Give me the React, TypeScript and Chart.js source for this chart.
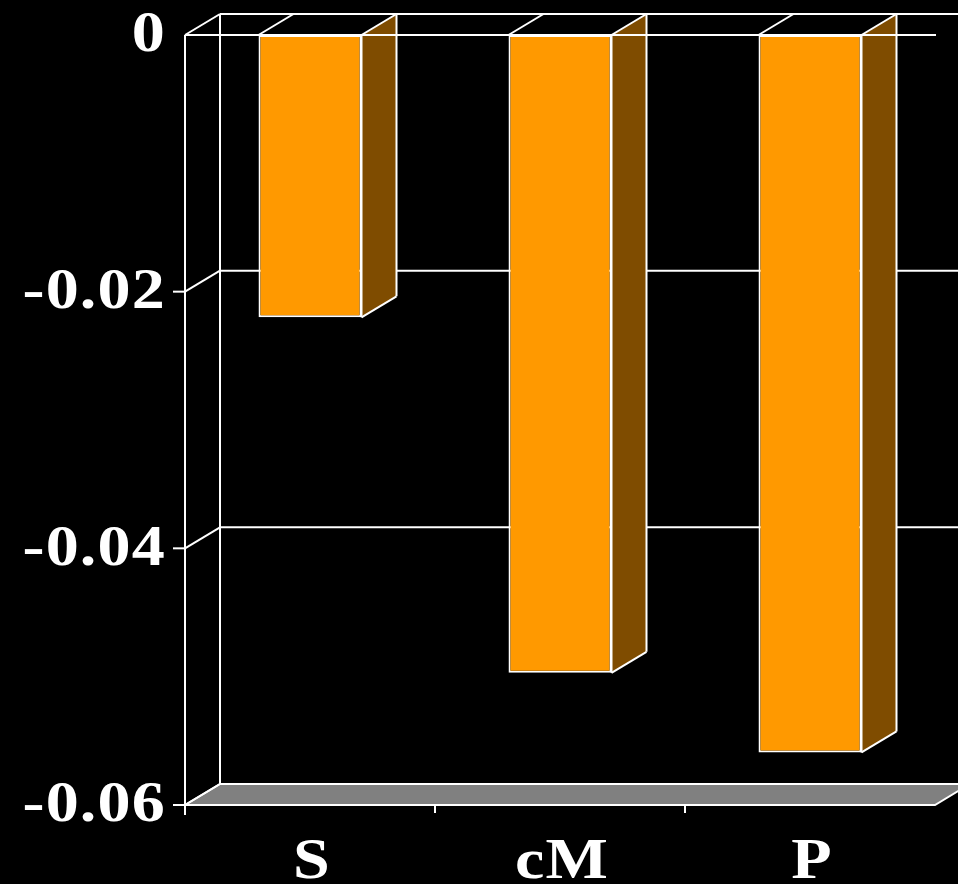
import React, { useEffect, useRef } from "react";
import { Chart, registerables } from "chart.js";

Chart.register(...registerables);

// Data
const categories = ["S", "cM", "P"];
const values = [-0.022, -0.0497, -0.0559];
const yTicks = [0, -0.02, -0.04, -0.06];
const Y_MIN = -0.06;
const Y_MAX = 0;

// 3D depth offset (pixels) for the pseudo-perspective
const DX = 35;
const DY = -21;

const FRONT = "#FF9900";
const SIDE = "#7F4C00";
const FLOOR = "#808080";
const LINE = "#FFFFFF";
const FONT = 'bold 56px "Liberation Serif", "Times New Roman", serif';
const TEXT_STRETCH = 1.18;

function line(ctx: CanvasRenderingContext2D, x1: number, y1: number, x2: number, y2: number) {
  ctx.beginPath();
  ctx.moveTo(x1, y1);
  ctx.lineTo(x2, y2);
  ctx.stroke();
}

// draws text widened horizontally, anchored at (x, y)
function wideText(ctx: CanvasRenderingContext2D, txt: string, x: number, y: number) {
  ctx.save();
  ctx.translate(x, y);
  ctx.scale(TEXT_STRETCH, 1);
  ctx.fillText(txt, 0, 0);
  ctx.restore();
}

const box3d = {
  id: "box3d",
  beforeDatasetsDraw(chart: any) {
    const ctx: CanvasRenderingContext2D = chart.ctx;
    const { left, right, top } = chart.chartArea;
    const ys = chart.scales.y;
    const xs = chart.scales.x;
    const yFloor = ys.getPixelForValue(Y_MIN);
    ctx.save();
    ctx.strokeStyle = LINE;
    ctx.lineWidth = 2;

    // floor
    ctx.beginPath();
    ctx.moveTo(left, yFloor);
    ctx.lineTo(right, yFloor);
    ctx.lineTo(right + DX, yFloor + DY);
    ctx.lineTo(left + DX, yFloor + DY);
    ctx.closePath();
    ctx.fillStyle = FLOOR;
    ctx.fill();
    ctx.stroke();

    // back wall grid lines and side-wall diagonals
    for (const v of yTicks) {
      const py = ys.getPixelForValue(v);
      if (v !== Y_MIN) line(ctx, left + DX, py + DY, chart.width + 5, py + DY);
      line(ctx, left, py, left + DX, py + DY);
    }
    // back wall left edge
    line(ctx, left + DX, top + DY, left + DX, yFloor + DY);
    // front value axis
    line(ctx, left, top, left, yFloor + 10);
    // value axis tick marks
    for (const v of yTicks) {
      if (v === Y_MAX) continue;
      const py = ys.getPixelForValue(v);
      line(ctx, left - 12, py, left, py);
    }
    // category axis tick marks at category boundaries
    const n = categories.length;
    for (let i = 1; i < n; i++) {
      const bx = (xs.getPixelForValue(i - 1) + xs.getPixelForValue(i)) / 2;
      line(ctx, bx, yFloor, bx, yFloor + 8);
    }
    ctx.restore();
  },
  afterDatasetsDraw(chart: any) {
    const ctx: CanvasRenderingContext2D = chart.ctx;
    const { left, right } = chart.chartArea;
    const ys = chart.scales.y;
    const xs = chart.scales.x;
    const meta = chart.getDatasetMeta(0);
    ctx.save();
    ctx.strokeStyle = LINE;
    ctx.lineWidth = 2;

    meta.data.forEach((bar: any) => {
      const p = bar.getProps(["x", "y", "base", "width"], true);
      const l = p.x - p.width / 2;
      const r = p.x + p.width / 2;
      const t = Math.min(p.y, p.base);
      const b = Math.max(p.y, p.base);
      // right side face
      ctx.beginPath();
      ctx.moveTo(r, t);
      ctx.lineTo(r + DX, t + DY);
      ctx.lineTo(r + DX, b + DY);
      ctx.lineTo(r, b);
      ctx.closePath();
      ctx.fillStyle = SIDE;
      ctx.fill();
      line(ctx, r + DX, t + DY, r + DX, b + DY);
      line(ctx, r + DX, b + DY, r, b);
      line(ctx, r, t, r, b);
      // top face outline
      line(ctx, l, t, l + DX, t + DY);
      line(ctx, r, t, r + DX, t + DY);
    });

    // zero reference line on the front plane
    const y0 = ys.getPixelForValue(0);
    line(ctx, left, y0, right + 1, y0);

    // labels
    ctx.fillStyle = "#FFFFFF";
    ctx.font = FONT;
    (ctx as any).letterSpacing = "1px";
    ctx.textBaseline = "middle";
    ctx.textAlign = "right";
    for (const v of yTicks) {
      const py = ys.getPixelForValue(v);
      const txt = v === 0 ? "0" : v.toFixed(2);
      wideText(ctx, txt, left - 19, py + 2);
    }
    ctx.textAlign = "center";
    categories.forEach((c, i) => {
      wideText(ctx, c, xs.getPixelForValue(i) + 2, 864);
    });
    ctx.restore();
  },
};

export default function App() {
  const ref = useRef<HTMLCanvasElement | null>(null);

  useEffect(() => {
    if (!ref.current) return;
    const chart = new Chart(ref.current, {
      type: "bar",
      data: {
        labels: categories,
        datasets: [
          {
            data: values,
            backgroundColor: FRONT,
            borderColor: LINE,
            borderWidth: 2,
            borderSkipped: false,
            barPercentage: 0.412,
            categoryPercentage: 1,
          },
        ],
      },
      options: {
        responsive: false,
        animation: false,
        devicePixelRatio: 1,
        layout: { padding: { left: 185, right: 23, top: 35, bottom: 79 } },
        plugins: { legend: { display: false }, tooltip: { enabled: false } },
        scales: {
          x: { display: false, offset: true },
          y: { display: false, min: Y_MIN, max: Y_MAX },
        },
      },
      plugins: [box3d],
    });
    return () => chart.destroy();
  }, []);

  return (
    <div style={{ position: "fixed", left: 0, top: 0, width: 958, height: 884, background: "#000" }}>
      <canvas ref={ref} width={958} height={884} style={{ display: "block" }} />
    </div>
  );
}
